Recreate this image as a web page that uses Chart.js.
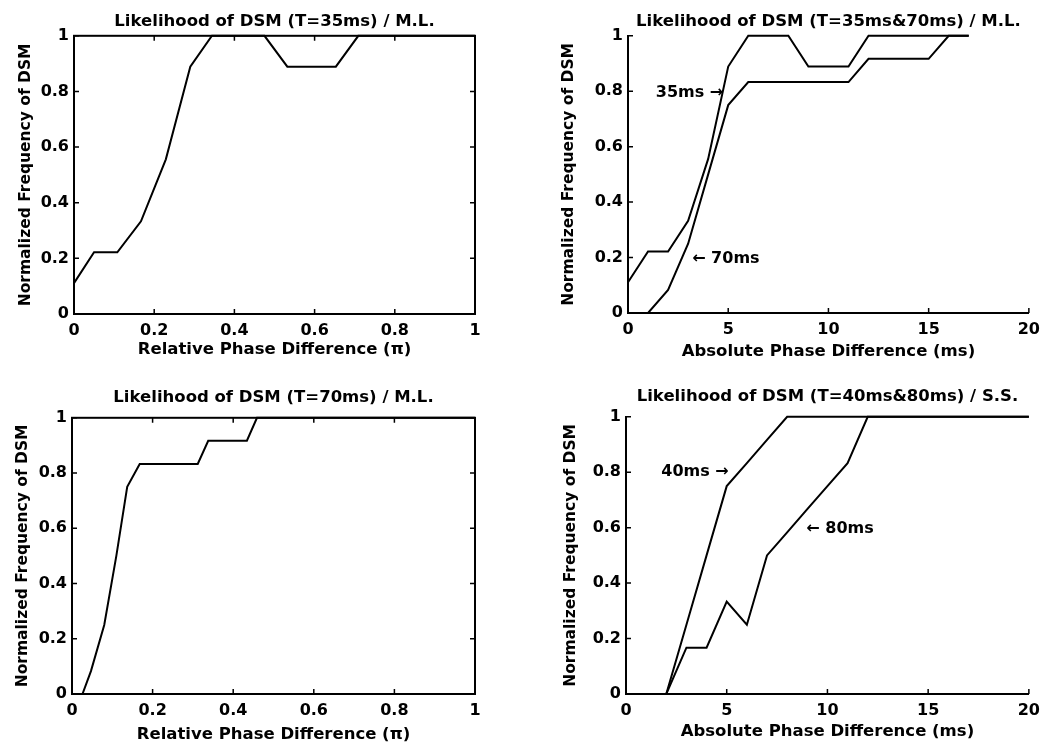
<!DOCTYPE html>
<html><head><meta charset="utf-8">
<script src="https://cdn.jsdelivr.net/npm/chart.js@4"></script>
<style>
html,body{margin:0;padding:0;background:#fff;}
body{width:1047px;height:746px;position:relative;overflow:hidden;}
canvas{position:absolute;display:block;}
</style></head><body>
<canvas id="c1" width="523" height="373" style="left:0;top:0"></canvas>
<canvas id="c2" width="524" height="373" style="left:523px;top:0"></canvas>
<canvas id="c3" width="523" height="373" style="left:0;top:373px"></canvas>
<canvas id="c4" width="524" height="373" style="left:523px;top:373px"></canvas>
<script>
// ---------- data ----------
const yTicks = [0, 0.2, 0.4, 0.6, 0.8, 1];
const relTicks = [0, 0.2, 0.4, 0.6, 0.8, 1];
const absTicks = [0, 5, 10, 15, 20];
// Top-left: T=35ms, relative phase difference (pi)
const tl_x = [0, 0.05, 0.108, 0.167, 0.229, 0.29, 0.344, 0.475, 0.532, 0.653, 0.709, 1];
const tl_y = [0.111, 0.222, 0.222, 0.333, 0.556, 0.889, 1, 1, 0.889, 0.889, 1, 1];
// Top-right: T=35ms & 70ms, absolute phase difference (ms)
const tr_x   = [0, 1, 2, 3, 4, 5, 6, 7, 8, 9, 10, 11, 12, 13, 14, 15, 16, 17];
const tr_35  = [0.111, 0.222, 0.222, 0.333, 0.556, 0.889, 1, 1, 1, 0.889, 0.889, 0.889, 1, 1, 1, 1, 1, 1];
const tr_70  = [0, 0, 0.083, 0.25, 0.5, 0.75, 0.833, 0.833, 0.833, 0.833, 0.833, 0.833, 0.917, 0.917, 0.917, 0.917, 1, 1];
// Bottom-left: T=70ms, relative phase difference (pi)
const bl_x = [0, 0.026, 0.047, 0.08, 0.11, 0.137, 0.168, 0.312, 0.338, 0.434, 0.459, 1];
const bl_y = [0, 0, 0.083, 0.25, 0.5, 0.75, 0.833, 0.833, 0.917, 0.917, 1, 1];
// Bottom-right: T=40ms & 80ms, absolute phase difference (ms)
const br_x   = [0, 1, 2, 3, 4, 5, 6, 7, 8, 9, 10, 11, 12, 13, 14, 15, 16, 17, 18, 19, 20];
const br_40  = [0, 0, 0, 0.25, 0.5, 0.75, 0.833, 0.917, 1, 1, 1, 1, 1, 1, 1, 1, 1, 1, 1, 1, 1];
const br_80  = [0, 0, 0, 0.167, 0.167, 0.333, 0.25, 0.5, 0.583, 0.667, 0.75, 0.833, 1, 1, 1, 1, 1, 1, 1, 1, 1];

const titles = [
  'Likelihood of DSM (T=35ms) / M.L.',
  'Likelihood of DSM (T=35ms&70ms) / M.L.',
  'Likelihood of DSM (T=70ms) / M.L.',
  'Likelihood of DSM (T=40ms&80ms) / S.S.'
];
const xTitleRel = 'Relative Phase Difference (\u03c0)';
const xTitleAbs = 'Absolute Phase Difference (ms)';
const yTitle = 'Normalized Frequency of DSM';

// ---------- helpers ----------
const FONT = '"DejaVu Sans", "Liberation Sans", Arial, sans-serif';
Chart.defaults.font.family = FONT;
Chart.defaults.color = '#000';

function pts(xs, ys) { return xs.map((x, i) => ({x: x, y: ys[i]})); }
function fmt(v) { return String(Math.round(v * 1000) / 1000); }

const framePlugin = {
  id: 'frame',
  afterDraw(chart, args, o) {
    const {ctx, chartArea: a} = chart;
    const xs = chart.scales.x, ys = chart.scales.y;
    ctx.save();
    ctx.strokeStyle = '#000';
    ctx.lineWidth = 2;
    if (o.box) ctx.strokeRect(a.left, a.top, a.right - a.left, a.bottom - a.top);
    const L = 5;
    ctx.lineWidth = 1.5;
    ctx.beginPath();
    xs.ticks.forEach(t => {
      const p = xs.getPixelForValue(t.value);
      ctx.moveTo(p, a.bottom); ctx.lineTo(p, a.bottom - L);
      if (o.box) { ctx.moveTo(p, a.top); ctx.lineTo(p, a.top + L); }
    });
    ys.ticks.forEach(t => {
      const p = ys.getPixelForValue(t.value);
      ctx.moveTo(a.left, p); ctx.lineTo(a.left + L, p);
      if (o.box) { ctx.moveTo(a.right, p); ctx.lineTo(a.right - L, p); }
    });
    ctx.stroke();
    ctx.fillStyle = '#000';
    ctx.font = 'bold 16px ' + FONT;
    ctx.textBaseline = 'middle';
    (o.notes || []).forEach(n => {
      ctx.textAlign = n.align;
      ctx.fillText(n.text, xs.getPixelForValue(n.x), ys.getPixelForValue(n.y));
    });
    ctx.restore();
  }
};

function makeChart(id, cfg) {
  const datasets = cfg.series.map(s => ({
    data: s, borderColor: '#000', borderWidth: 2, pointRadius: 0,
    tension: 0, fill: false, clip: 3
  }));
  return new Chart(document.getElementById(id), {
    type: 'line',
    data: { datasets: datasets },
    plugins: [framePlugin],
    options: {
      responsive: false, animation: false, devicePixelRatio: 1,
      events: [],
      layout: { padding: cfg.pad },
      plugins: {
        legend: { display: false }, tooltip: { enabled: false },
        title: {
          display: true, text: cfg.title, fullSize: false,
          font: { size: 16.5, weight: 'bold' }, color: '#000',
          padding: cfg.titlePad
        },
        frame: { box: cfg.box, notes: cfg.notes }
      },
      scales: {
        x: {
          type: 'linear', min: cfg.xmin, max: cfg.xmax,
          afterBuildTicks: s => { s.ticks = cfg.xTicks.map(v => ({value: v})); },
          ticks: { font: { size: 16, weight: 'bold' }, color: '#000', padding: 7, maxRotation: 0, callback: v => fmt(v) },
          grid: { display: false, drawTicks: false },
          border: { display: true, color: '#000', width: 2 },
          title: { display: true, text: cfg.xTitle, font: { size: 16.5, weight: 'bold' }, color: '#000', padding: 0 },
          afterFit: s => { s.height = cfg.xH; }
        },
        y: {
          type: 'linear', min: 0, max: 1,
          afterBuildTicks: s => { s.ticks = yTicks.map(v => ({value: v})); },
          ticks: { font: { size: 16, weight: 'bold' }, color: '#000', padding: 5, callback: v => fmt(v) },
          grid: { display: false, drawTicks: false },
          border: { display: true, color: '#000', width: 2 },
          title: { display: true, text: yTitle, font: { size: 15.5, weight: 'bold' }, color: '#000', padding: 0 },
          afterFit: s => { s.width = cfg.yW; }
        }
      }
    }
  });
}

makeChart('c1', {
  title: titles[0], xTitle: xTitleRel, xmin: 0, xmax: 1, xTicks: relTicks,
  series: [pts(tl_x, tl_y)], box: true,
  pad: { left: 17, right: 48, top: 0, bottom: 13 }, titlePad: { top: 12, bottom: 4 },
  yW: 57, xH: 46
});
makeChart('c2', {
  title: titles[1], xTitle: xTitleAbs, xmin: 0, xmax: 20, xTicks: absTicks,
  series: [pts(tr_x, tr_35), pts(tr_x, tr_70)], box: false,
  notes: [
    { text: '35ms \u2192', x: 4.75, y: 0.795, align: 'right' },
    { text: '\u2190 70ms', x: 3.2, y: 0.195, align: 'left' }
  ],
  pad: { left: 37, right: 14, top: 0, bottom: 11 }, titlePad: { top: 12, bottom: 4 },
  yW: 68, xH: 49
});
makeChart('c3', {
  title: titles[2], xTitle: xTitleRel, xmin: 0, xmax: 1, xTicks: relTicks,
  series: [pts(bl_x, bl_y)], box: true,
  pad: { left: 14, right: 48, top: 0, bottom: 1 }, titlePad: { top: 15, bottom: 10 },
  yW: 58, xH: 51
});
makeChart('c4', {
  title: titles[3], xTitle: xTitleAbs, xmin: 0, xmax: 20, xTicks: absTicks,
  series: [pts(br_x, br_40), pts(br_x, br_80)], box: false,
  notes: [
    { text: '40ms \u2192', x: 5.1, y: 0.8, align: 'right' },
    { text: '\u2190 80ms', x: 8.95, y: 0.596, align: 'left' }
  ],
  pad: { left: 39, right: 15, top: 0, bottom: 4 }, titlePad: { top: 14, bottom: 10 },
  yW: 64, xH: 48
});
</script>
</body></html>
